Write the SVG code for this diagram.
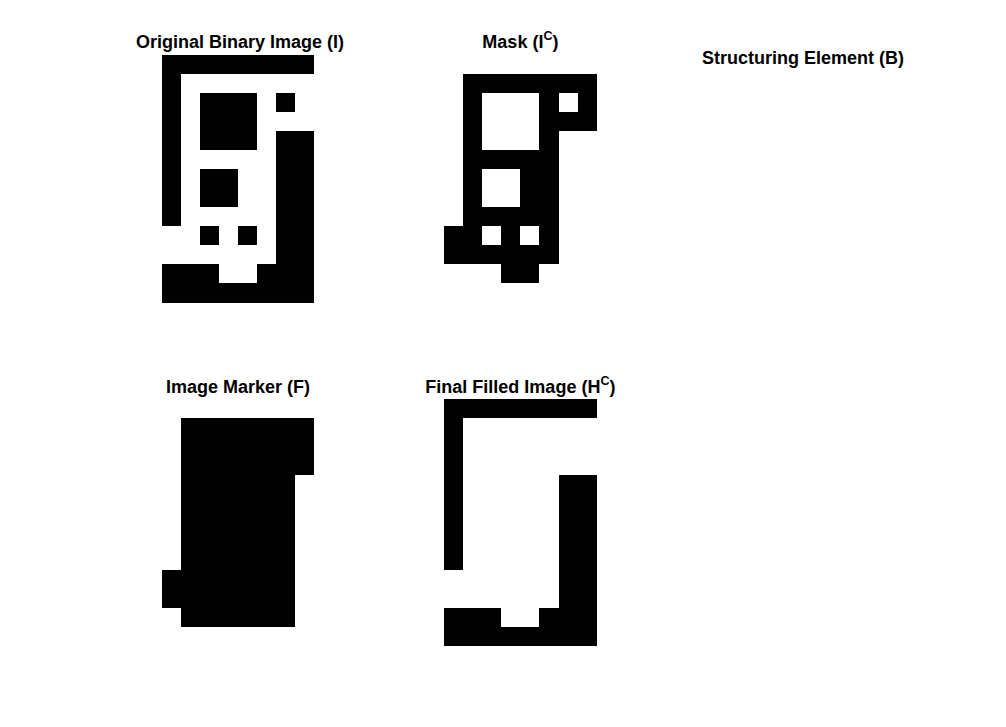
<svg xmlns="http://www.w3.org/2000/svg" width="1006" height="727" viewBox="0 0 1006 727">
<style>
.t{font-family:"Liberation Sans",Arial,Helvetica,sans-serif;font-weight:bold;font-size:18px;fill:#000;text-anchor:middle}
.sup{font-size:12.5px}
.px rect{fill:#000}
</style>
<rect width="1006" height="727" fill="#fff"/>
<g id="original">
<text class="t" x="240" y="48">Original Binary Image (I)</text>
<g class="px" transform="translate(161.7,55) scale(19.04)" shape-rendering="crispEdges">
<rect x="0" y="0" width="8" height="1"/>
<rect x="0" y="1" width="1" height="8"/>
<rect x="2" y="2" width="3" height="3"/>
<rect x="6" y="2" width="1" height="1"/>
<rect x="6" y="4" width="2" height="9"/>
<rect x="2" y="6" width="2" height="2"/>
<rect x="2" y="9" width="1" height="1"/>
<rect x="4" y="9" width="1" height="1"/>
<rect x="0" y="11" width="3" height="1"/>
<rect x="5" y="11" width="1" height="1"/>
<rect x="0" y="12" width="8" height="1"/>
</g>
</g>
<g id="mask">
<text class="t" x="520.4" y="48">Mask (I<tspan class="sup" dy="-8.5">C</tspan><tspan dy="8.5">)</tspan></text>
<g class="px" transform="translate(444.3,55) scale(19.04)" shape-rendering="crispEdges">
<rect x="1" y="1" width="7" height="1"/>
<rect x="1" y="1" width="1" height="10"/>
<rect x="5" y="1" width="1" height="10"/>
<rect x="7" y="2" width="1" height="2"/>
<rect x="6" y="3" width="1" height="1"/>
<rect x="1" y="5" width="5" height="1"/>
<rect x="4" y="6" width="2" height="2"/>
<rect x="1" y="8" width="5" height="1"/>
<rect x="0" y="9" width="1" height="1"/>
<rect x="3" y="9" width="1" height="1"/>
<rect x="0" y="10" width="6" height="1"/>
<rect x="3" y="11" width="2" height="1"/>
</g>
</g>
<g id="structuring">
<text class="t" x="803" y="64">Structuring Element (B)</text>
</g>
<g id="marker">
<text class="t" x="238" y="393">Image Marker (F)</text>
<g class="px" transform="translate(161.7,398.7) scale(19.04)" shape-rendering="crispEdges">
<rect x="1" y="1" width="7" height="3"/>
<rect x="1" y="4" width="6" height="8"/>
<rect x="0" y="9" width="1" height="2"/>
</g>
</g>
<g id="final">
<text class="t" x="520.4" y="393">Final Filled Image (H<tspan class="sup" dy="-8.5">C</tspan><tspan dy="8.5">)</tspan></text>
<g class="px" transform="translate(444.3,398.7) scale(19.04)" shape-rendering="crispEdges">
<rect x="0" y="0" width="8" height="1"/>
<rect x="0" y="1" width="1" height="8"/>
<rect x="6" y="4" width="2" height="9"/>
<rect x="0" y="11" width="3" height="1"/>
<rect x="5" y="11" width="1" height="1"/>
<rect x="0" y="12" width="8" height="1"/>
</g>
</g>
<g id="connectors"></g>
</svg>
